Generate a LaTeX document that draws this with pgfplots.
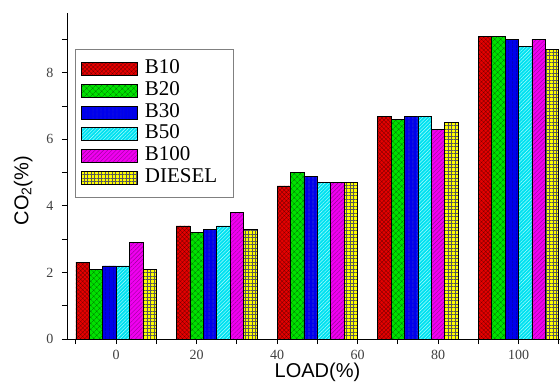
\documentclass[border=0pt]{standalone}
\usepackage{fontspec}
\setmainfont{Liberation Serif}
\setsansfont{Liberation Sans}
\usepackage{pgfplots}
\pgfplotsset{compat=1.18}
\usetikzlibrary{patterns.meta}
\definecolor{cB10}{RGB}{230,0,0}
\definecolor{cB20}{RGB}{0,225,0}
\definecolor{cB30}{RGB}{0,0,235}
\definecolor{cB50}{RGB}{0,225,240}
\definecolor{cB100}{RGB}{240,0,240}
\definecolor{cD}{RGB}{255,255,0}
\begin{document}
\begin{tikzpicture}[x=1pt,y=1pt]
\useasboundingbox (0,0) rectangle (560,381);
\begin{axis}[
 at={(67pt,42pt)}, anchor=south west,
 scale only axis, width=493pt, height=326pt,
 xmin=-12.2, xmax=110.3, ymin=0, ymax=9.8,
 axis x line*=bottom, axis y line*=left,
 axis line style={line width=0.9pt},
 xtick={0,20,...,100}, minor xtick={-10,10,...,110},
 ytick={0,2,...,8}, minor ytick={1,3,...,9},
 tick align=outside, major tick length=5pt, minor tick length=5pt,
 every tick/.style={black, line width=0.9pt},
 ticklabel style={font=\fontsize{14}{16}\selectfont, text=black!75},
 xticklabel style={yshift=-3pt},
 yticklabel style={xshift=-5pt},
 /pgf/number format/assume math mode=true,
 xlabel={\sffamily LOAD(\%)},
 ylabel={\sffamily CO\textsubscript{2}(\%)},
 label style={font=\fontsize{20}{22}\selectfont},
 xlabel style={at={(axis description cs:0.508,-0.101)}, anchor=center},
 ylabel style={at={(axis description cs:-0.089,0.455)}, anchor=center},
 ybar, bar width=3.33,
 every axis plot/.append style={draw=black, line width=0.6pt},
 legend image code/.code={\draw[#1] (0pt,-6.5pt) rectangle (56pt,6.5pt); \path (62pt,0pt);},
 legend style={at={(axis description cs:0.016,0.89)}, anchor=north west,
   draw=gray, line width=0.9pt, inner xsep=6pt, inner ysep=9pt,
   font=\fontsize{21}{23}\selectfont, cells={anchor=west},
   nodes={inner sep=1pt, text height=14.5pt, text depth=5.2pt},
   /tikz/column 2/.append style={text width=82pt}},
]
\addplot[bar shift=-8.33, fill=cB10, postaction={pattern={Hatch[angle=45,distance=3pt,line width=0.3pt]}, pattern color=red!45!black}]
 coordinates {(0,2.3) (25,3.4) (50,4.6) (75,6.7) (100,9.1)};
\addplot[bar shift=-5, fill=cB20, postaction={pattern={Hatch[angle=45,distance=4pt,line width=0.4pt]}, pattern color=green!45!black}]
 coordinates {(0,2.1) (25,3.2) (50,5.0) (75,6.6) (100,9.1)};
\addplot[bar shift=-1.67, fill=cB30, postaction={pattern={Lines[angle=90,distance=4pt,line width=0.3pt]}, pattern color=blue!45!black}]
 coordinates {(0,2.2) (25,3.3) (50,4.9) (75,6.7) (100,9.0)};
\addplot[bar shift=1.67, fill=cB50, postaction={pattern={Lines[angle=45,distance=2.5pt,line width=0.4pt]}, pattern color=cyan!30!white}]
 coordinates {(0,2.2) (25,3.4) (50,4.7) (75,6.7) (100,8.8)};
\addplot[bar shift=5, fill=cB100, postaction={pattern={Lines[angle=45,distance=3pt,line width=0.4pt]}, pattern color=magenta!60!black}]
 coordinates {(0,2.9) (25,3.8) (50,4.7) (75,6.3) (100,9.0)};
\addplot[bar shift=8.33, fill=cD, postaction={pattern={Hatch[angle=0,distance=3.5pt,line width=0.4pt]}, pattern color=black!65}]
 coordinates {(0,2.1) (25,3.3) (50,4.7) (75,6.5) (100,8.7)};
\legend{B10,B20,B30,B50,B100,DIESEL}
\end{axis}
\end{tikzpicture}
\end{document}
